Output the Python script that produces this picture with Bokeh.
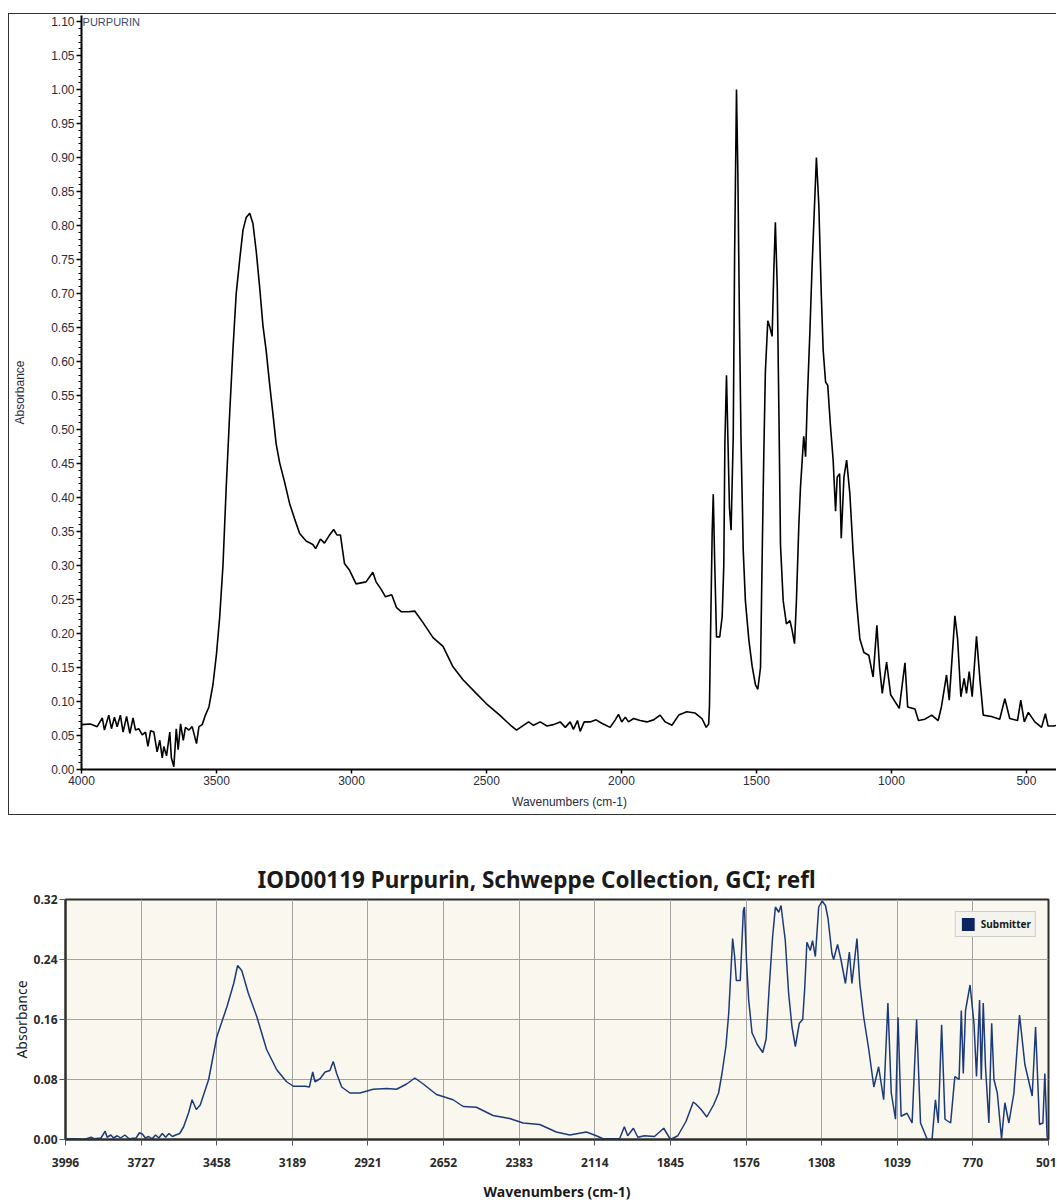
from bokeh.plotting import figure
from bokeh.models import (Range1d, FixedTicker, NumeralTickFormatter, Label, Legend,
                          LegendItem)
from bokeh.layouts import column
from bokeh.embed import file_html
from bokeh.resources import INLINE

# ---------------- data: top spectrum (PURPURIN) ----------------
top_name = "PURPURIN"
top_wavenumbers = [
    4000, 3967, 3942, 3923, 3915, 3899, 3889, 3878, 3868, 3856, 3846, 3833, 3821, 3809,
    3800, 3788, 3775, 3763, 3754, 3744, 3732, 3720, 3710, 3701, 3695, 3685, 3673, 3667,
    3658, 3649, 3642, 3633, 3623, 3615, 3602, 3590, 3574, 3565, 3553, 3541, 3528, 3513,
    3500, 3488, 3476, 3464, 3451, 3439, 3427, 3414, 3402, 3390, 3377, 3365, 3353, 3340,
    3328, 3316, 3303, 3291, 3279, 3266, 3248, 3229, 3211, 3192, 3168, 3143, 3133, 3115,
    3100, 3081, 3066, 3054, 3041, 3026, 3007, 2983, 2946, 2921, 2909, 2890, 2874, 2851,
    2833, 2815, 2790, 2766, 2735, 2698, 2661, 2624, 2587, 2538, 2501, 2451, 2408, 2389,
    2363, 2344, 2326, 2301, 2276, 2252, 2227, 2208, 2190, 2178, 2163, 2153, 2138, 2116,
    2094, 2073, 2042, 2023, 2011, 1999, 1986, 1974, 1955, 1931, 1906, 1881, 1857, 1838,
    1813, 1788, 1758, 1727, 1702, 1686, 1677, 1674, 1670, 1664, 1660, 1655, 1648, 1636,
    1627, 1621, 1617, 1611, 1606, 1600, 1594, 1586, 1581, 1574, 1569, 1563, 1557, 1549,
    1541, 1528, 1516, 1504, 1495, 1485, 1479, 1473, 1467, 1458, 1450, 1442, 1436, 1430,
    1423, 1417, 1411, 1401, 1389, 1376, 1368, 1359, 1352, 1343, 1337, 1325, 1318, 1312,
    1302, 1294, 1285, 1278, 1269, 1260, 1253, 1244, 1236, 1226, 1216, 1207, 1201, 1192,
    1186, 1176, 1166, 1154, 1142, 1129, 1117, 1102, 1084, 1068, 1054, 1044, 1034, 1018,
    1003, 971, 950, 940, 913, 900, 876, 851, 827, 815, 796, 786, 765, 755, 743, 731, 722,
    712, 701, 685, 672, 660, 630, 599, 580, 562, 533, 521, 508, 493, 469, 444, 430, 420,
    400, 385]
top_absorbance = [
    0.066, 0.067, 0.063, 0.076, 0.058, 0.080, 0.060, 0.077, 0.063, 0.080, 0.055, 0.078,
    0.053, 0.076, 0.058, 0.060, 0.051, 0.055, 0.034, 0.057, 0.055, 0.026, 0.043, 0.017,
    0.034, 0.020, 0.055, 0.017, 0.004, 0.060, 0.029, 0.067, 0.043, 0.062, 0.058, 0.063,
    0.038, 0.063, 0.066, 0.080, 0.092, 0.125, 0.170, 0.225, 0.300, 0.415, 0.525, 0.618,
    0.700, 0.750, 0.793, 0.812, 0.818, 0.803, 0.763, 0.709, 0.653, 0.616, 0.566, 0.523,
    0.479, 0.451, 0.423, 0.391, 0.369, 0.347, 0.336, 0.331, 0.325, 0.339, 0.333, 0.345,
    0.353, 0.345, 0.345, 0.303, 0.293, 0.273, 0.276, 0.290, 0.276, 0.265, 0.254, 0.257,
    0.238, 0.232, 0.232, 0.233, 0.216, 0.194, 0.181, 0.151, 0.132, 0.112, 0.097, 0.080,
    0.064, 0.058, 0.065, 0.070, 0.065, 0.070, 0.064, 0.066, 0.070, 0.062, 0.070, 0.059,
    0.072, 0.056, 0.070, 0.070, 0.073, 0.068, 0.062, 0.073, 0.081, 0.070, 0.077, 0.070,
    0.075, 0.072, 0.070, 0.073, 0.080, 0.070, 0.065, 0.080, 0.085, 0.083, 0.075, 0.062,
    0.067, 0.094, 0.200, 0.350, 0.405, 0.310, 0.195, 0.195, 0.225, 0.300, 0.480, 0.580,
    0.490, 0.385, 0.352, 0.490, 0.755, 1.000, 0.880, 0.660, 0.480, 0.322, 0.248, 0.190,
    0.152, 0.125, 0.118, 0.150, 0.310, 0.460, 0.585, 0.660, 0.650, 0.637, 0.730, 0.805,
    0.710, 0.530, 0.330, 0.248, 0.214, 0.219, 0.205, 0.185, 0.248, 0.360, 0.415, 0.490,
    0.460, 0.540, 0.645, 0.740, 0.830, 0.900, 0.830, 0.700, 0.617, 0.570, 0.565, 0.506,
    0.455, 0.380, 0.430, 0.435, 0.340, 0.430, 0.455, 0.405, 0.320, 0.245, 0.192, 0.172,
    0.168, 0.136, 0.212, 0.150, 0.112, 0.158, 0.110, 0.090, 0.157, 0.092, 0.089, 0.072,
    0.074, 0.080, 0.072, 0.092, 0.139, 0.102, 0.226, 0.192, 0.107, 0.134, 0.112, 0.144,
    0.107, 0.196, 0.131, 0.080, 0.078, 0.074, 0.104, 0.075, 0.072, 0.102, 0.070, 0.084,
    0.070, 0.062, 0.082, 0.064, 0.064, 0.065]
top_x_ticks = [4000, 3500, 3000, 2500, 2000, 1500, 1000, 500]
top_y_ticks = [0.00, 0.05, 0.10, 0.15, 0.20, 0.25, 0.30, 0.35, 0.40, 0.45, 0.50, 0.55,
               0.60, 0.65, 0.70, 0.75, 0.80, 0.85, 0.90, 0.95, 1.00, 1.05, 1.10]
top_y_minor = [i / 100 for i in range(0, 111)]

# ---------------- data: bottom spectrum (IOD00119) ----------------
bottom_title = "IOD00119 Purpurin, Schweppe Collection, GCI; refl"
bottom_series = "Submitter"
bottom_wavenumbers = [
    3996, 3960, 3930, 3905, 3895, 3870, 3855, 3848, 3835, 3825, 3812, 3800, 3785, 3770,
    3745, 3733, 3722, 3712, 3700, 3688, 3676, 3664, 3652, 3640, 3628, 3616, 3604, 3590,
    3576, 3558, 3546, 3531, 3517, 3487, 3458, 3422, 3398, 3384, 3369, 3346, 3316, 3281,
    3245, 3210, 3186, 3144, 3129, 3117, 3109, 3091, 3073, 3056, 3044, 3032, 3014, 2985,
    2949, 2902, 2854, 2819, 2783, 2754, 2724, 2677, 2618, 2582, 2535, 2476, 2417, 2369,
    2310, 2251, 2203, 2144, 2109, 2085, 2026, 2009, 1997, 1977, 1961, 1938, 1902, 1869,
    1845, 1819, 1790, 1764, 1754, 1736, 1716, 1692, 1674, 1662, 1648, 1638, 1630, 1624,
    1617, 1611, 1597, 1586, 1582, 1575, 1567, 1555, 1546, 1537, 1517, 1505, 1494, 1482,
    1472, 1460, 1452, 1445, 1437, 1425, 1413, 1401, 1387, 1375, 1368, 1360, 1348, 1340,
    1330, 1318, 1306, 1294, 1285, 1271, 1265, 1251, 1239, 1223, 1209, 1200, 1182, 1172,
    1158, 1140, 1122, 1105, 1087, 1072, 1060, 1045, 1036, 1025, 1004, 986, 970, 956,
    932, 915, 903, 893, 881, 869, 849, 834, 819, 811, 804, 796, 780, 766, 757, 746, 740,
    733, 725, 713, 703, 695, 683, 668, 656, 642, 624, 604, 585, 559, 547, 533, 521, 514,
    506, 501]
bottom_absorbance = [
    0.001, 0.001, 0.000, 0.003, 0.001, 0.002, 0.011, 0.003, 0.006, 0.002, 0.005, 0.002,
    0.006, 0.001, 0.002, 0.009, 0.007, 0.002, 0.004, 0.001, 0.006, 0.002, 0.008, 0.003,
    0.008, 0.004, 0.006, 0.008, 0.017, 0.036, 0.053, 0.040, 0.046, 0.080, 0.137, 0.177,
    0.208, 0.232, 0.225, 0.195, 0.164, 0.120, 0.093, 0.077, 0.071, 0.071, 0.070, 0.090,
    0.077, 0.081, 0.090, 0.092, 0.104, 0.088, 0.070, 0.062, 0.062, 0.067, 0.068, 0.067,
    0.074, 0.082, 0.074, 0.060, 0.053, 0.044, 0.043, 0.032, 0.028, 0.022, 0.020, 0.010,
    0.006, 0.010, 0.005, 0.001, 0.001, 0.017, 0.005, 0.015, 0.003, 0.005, 0.004, 0.015,
    0.000, 0.005, 0.024, 0.050, 0.047, 0.040, 0.030, 0.046, 0.062, 0.088, 0.124, 0.168,
    0.226, 0.268, 0.244, 0.212, 0.212, 0.305, 0.310, 0.240, 0.186, 0.142, 0.135, 0.127,
    0.116, 0.134, 0.203, 0.270, 0.310, 0.303, 0.312, 0.290, 0.266, 0.195, 0.150, 0.124,
    0.155, 0.160, 0.200, 0.263, 0.252, 0.265, 0.244, 0.310, 0.318, 0.312, 0.295, 0.248,
    0.240, 0.260, 0.240, 0.208, 0.250, 0.208, 0.268, 0.208, 0.163, 0.120, 0.070, 0.097,
    0.053, 0.182, 0.062, 0.027, 0.163, 0.031, 0.035, 0.022, 0.160, 0.022, 0.000, 0.000,
    0.053, 0.022, 0.153, 0.027, 0.022, 0.084, 0.080, 0.172, 0.088, 0.172, 0.206, 0.155,
    0.084, 0.186, 0.080, 0.182, 0.097, 0.022, 0.155, 0.080, 0.062, 0.001, 0.049, 0.022,
    0.062, 0.166, 0.100, 0.058, 0.150, 0.020, 0.022, 0.088, 0.004, 0.000]
bottom_x_ticks = [3996, 3727, 3458, 3189, 2921, 2652, 2383, 2114, 1845, 1576, 1308, 1039, 770, 501]
bottom_y_ticks = [0.00, 0.08, 0.16, 0.24, 0.32]

# ---------------- top figure ----------------
FONT1 = "Liberation Sans"
p1 = figure(width=1048, height=802, x_range=Range1d(4000, 385), y_range=Range1d(0, 1.109),
            output_backend="svg", toolbar_location=None, frame_align=False,
            min_border_left=72, min_border_right=0, min_border_top=1, min_border_bottom=47)
p1.margin = (13, 0, 0, 8)
p1.styles = {"border-left": "1px solid #333", "border-top": "1px solid #333",
             "border-bottom": "1px solid #333"}
p1.outline_line_color = None
p1.grid.visible = False
p1.background_fill_color = "white"
p1.line(top_wavenumbers, top_absorbance, line_color="black", line_width=1.6)

p1.yaxis.ticker = FixedTicker(ticks=top_y_ticks, minor_ticks=top_y_minor)
p1.yaxis.formatter = NumeralTickFormatter(format="0.00")
p1.xaxis.ticker = FixedTicker(ticks=top_x_ticks)
for ax in (p1.xaxis[0], p1.yaxis[0]):
    ax.axis_line_width = 2
    ax.axis_line_color = "black"
    ax.major_tick_line_color = "black"
    ax.major_tick_line_width = 1.5
    ax.major_tick_out = 5
    ax.major_tick_in = 0
    ax.major_label_text_font = FONT1
    ax.major_label_text_font_size = "12px"
    ax.major_label_text_color = "#2a2a3a"
    ax.major_label_standoff = 2
    ax.axis_label_text_font = FONT1
    ax.axis_label_text_font_size = "12px"
    ax.axis_label_text_font_style = "normal"
    ax.axis_label_text_color = "#2a2a3a"
p1.yaxis.minor_tick_out = 3
p1.yaxis.minor_tick_in = 0
p1.yaxis.minor_tick_line_color = "black"
p1.xaxis.minor_tick_line_color = None
p1.xaxis.major_tick_out = 4
p1.yaxis.axis_label = "Absorbance"
p1.yaxis.axis_label_standoff = 21
p1.xaxis.axis_label = "Wavenumbers (cm-1)"
p1.xaxis.axis_label_standoff = 7
p1.add_layout(Label(x=3996, y=1.10, text=top_name, text_font=FONT1, text_font_size="11px",
                    text_color="#3c4a6a", text_baseline="middle", text_align="left"))

# ---------------- bottom figure ----------------
FONT2 = "Noto Sans"
NAVY = "#1d3a78"
p2 = figure(width=1048, height=388, x_range=Range1d(3996, 501), y_range=Range1d(0, 0.32),
            output_backend="svg", toolbar_location=None, frame_align=False,
            min_border_left=57, min_border_right=8, min_border_top=84, min_border_bottom=64)
p2.margin = (0, 0, 0, 8)
p2.title.text = bottom_title
p2.title.align = "left"
p2.title.offset = 192
p2.title.text_font = FONT2
p2.title.text_font_size = "22.5px"
p2.title.text_font_style = "bold"
p2.title.text_color = "#1a1a1a"
p2.title.standoff = 10
p2.background_fill_color = "#faf7ee"
p2.outline_line_color = "#2e2e2e"
p2.outline_line_width = 2
p2.grid.grid_line_color = "#a3a3a3"
p2.grid.grid_line_width = 1

p2.line(bottom_wavenumbers, bottom_absorbance, line_color=NAVY, line_width=1.5)
# zero-height area along the spectrum: invisible in the plot, gives the legend its filled swatch
swatch = p2.varea(x=bottom_wavenumbers, y1=bottom_absorbance, y2=bottom_absorbance,
                  fill_color="#0d2461", fill_alpha=1.0)

p2.xaxis.ticker = FixedTicker(ticks=bottom_x_ticks)
p2.xaxis.formatter = NumeralTickFormatter(format="0")
p2.yaxis.ticker = FixedTicker(ticks=bottom_y_ticks)
p2.yaxis.formatter = NumeralTickFormatter(format="0.00")
for ax in (p2.xaxis[0], p2.yaxis[0]):
    ax.axis_line_width = 2
    ax.axis_line_color = "#2e2e2e"
    ax.major_tick_line_color = "#555555"
    ax.major_tick_line_width = 1
    ax.major_tick_in = 0
    ax.minor_tick_line_color = None
    ax.major_label_text_font = FONT2
    ax.major_label_text_font_size = "12px"
    ax.major_label_text_font_style = "bold"
    ax.major_label_text_color = "#2a2a2a"
    ax.axis_label_text_font = FONT2
    ax.axis_label_text_color = "#1a1a1a"
p2.xaxis.major_tick_out = 6
p2.xaxis.major_label_standoff = 12
p2.yaxis.major_tick_out = 6
p2.yaxis.major_label_standoff = 2
p2.xaxis.axis_label = "Wavenumbers (cm-1)"
p2.xaxis.axis_label_text_font_size = "14px"
p2.xaxis.axis_label_text_font_style = "bold"
p2.xaxis.axis_label_standoff = 12
p2.yaxis.axis_label = "Absorbance"
p2.yaxis.axis_label_text_font_size = "14px"
p2.yaxis.axis_label_text_font_style = "normal"
p2.yaxis.axis_label_standoff = 0

legend = Legend(items=[LegendItem(label=bottom_series, renderers=[swatch])],
                location="top_right", margin=12, padding=4, spacing=0,
                glyph_width=16, glyph_height=16, label_standoff=5,
                label_text_font=FONT2, label_text_font_size="10px",
                label_text_font_style="bold", label_text_color="#1a1a1a",
                border_line_color="#a8a8a8", background_fill_color="#f4f3ee",
                background_fill_alpha=1.0)
p2.add_layout(legend)

layout = column(p1, p2)
open("out.html", "w").write(file_html(layout, INLINE))
